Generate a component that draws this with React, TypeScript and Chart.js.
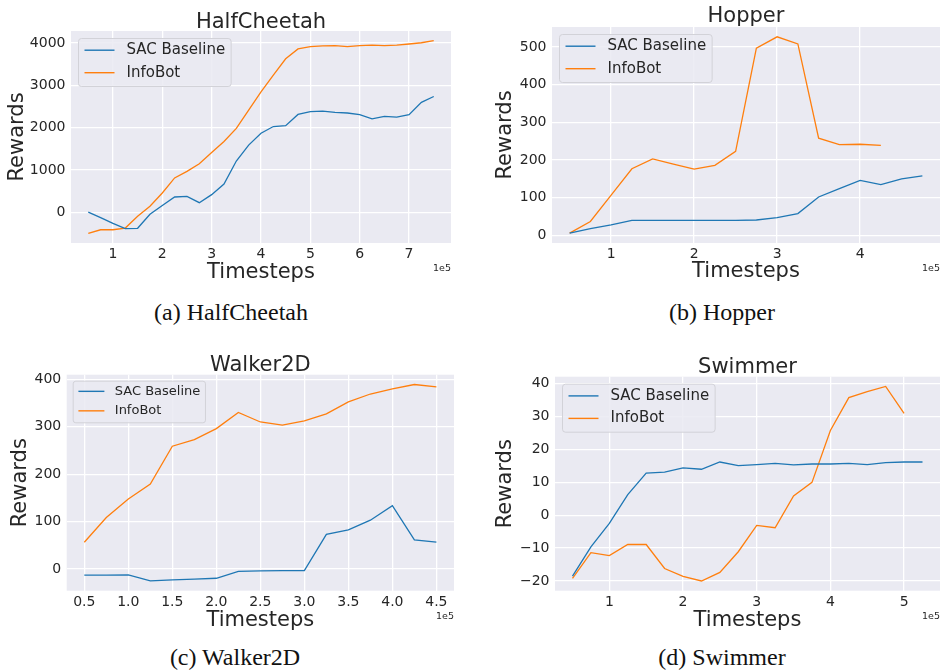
import { useEffect, useRef } from "react";
import { Chart, registerables } from "chart.js";

Chart.register(...registerables);

// ---------------- DATA ----------------
const SERIES_LABELS = ["SAC Baseline", "InfoBot"];

// (a) HalfCheetah
const HC_STEPS = [
  50000, 75000, 100000, 125000, 150000, 175000, 200000, 225000, 250000, 275000,
  300000, 325000, 350000, 375000, 400000, 425000, 450000, 475000, 500000, 525000,
  550000, 575000, 600000, 625000, 650000, 675000, 700000, 725000, 750000,
];
const HC_SAC = [
  0, -130, -265, -390, -380, -50, 160, 360, 375, 225, 415, 665, 1210, 1585, 1865,
  2025, 2045, 2310, 2375, 2390, 2360, 2345, 2305, 2205, 2265, 2245, 2305, 2595, 2735,
];
const HC_INFOBOT = [
  -500, -415, -415, -375, -95, 140, 455, 810, 965, 1145, 1410, 1670, 1980, 2415, 2845,
  3240, 3625, 3860, 3915, 3930, 3935, 3915, 3935, 3950, 3935, 3950, 3975, 4005, 4055,
];
const HC_X_TICKS = [100000, 200000, 300000, 400000, 500000, 600000, 700000];
const HC_X_LABELS = ["1", "2", "3", "4", "5", "6", "7"];
const HC_Y_TICKS = [0, 1000, 2000, 3000, 4000];
const HC_Y_LABELS = ["0", "1000", "2000", "3000", "4000"];

// (b) Hopper
const HOP_STEPS = [
  50000, 75000, 100000, 125000, 150000, 175000, 200000, 225000, 250000, 275000,
  300000, 325000, 350000, 375000, 400000, 425000, 450000, 475000,
];
const HOP_SAC = [6, 18, 28, 40, 40, 40, 40, 40, 40, 41, 47, 58, 102, 124, 146, 135, 150, 158];
const HOP_INFOBOT = [6, 37, 107, 177, 203, 189, 176, 186, 223, 497, 527, 508, 258, 241, 242, 239];
const HOP_X_TICKS = [100000, 200000, 300000, 400000];
const HOP_X_LABELS = ["1", "2", "3", "4"];
const HOP_Y_TICKS = [0, 100, 200, 300, 400, 500];
const HOP_Y_LABELS = ["0", "100", "200", "300", "400", "500"];

// (c) Walker2D
const WK_STEPS = [
  50000, 75000, 100000, 125000, 150000, 175000, 200000, 225000, 250000, 275000,
  300000, 325000, 350000, 375000, 400000, 425000, 450000,
];
const WK_SAC = [-13, -13, -12.5, -25, -23, -21.5, -19.5, -5, -4, -3.5, -3.5, 73, 82.5, 103, 133.5, 61.5, 56.5];
const WK_INFOBOT = [56.5, 108.5, 147.5, 179, 259, 273, 296, 330, 310, 303.5, 312.5, 327, 352.5, 369, 380, 389, 384];
const WK_X_TICKS = [50000, 100000, 150000, 200000, 250000, 300000, 350000, 400000, 450000];
const WK_X_LABELS = ["0.5", "1.0", "1.5", "2.0", "2.5", "3.0", "3.5", "4.0", "4.5"];
const WK_Y_TICKS = [0, 100, 200, 300, 400];
const WK_Y_LABELS = ["0", "100", "200", "300", "400"];

// (d) Swimmer
const SW_STEPS = [
  50000, 75000, 100000, 125000, 150000, 175000, 200000, 225000, 250000, 275000,
  300000, 325000, 350000, 375000, 400000, 425000, 450000, 475000, 500000, 525000,
];
const SW_SAC = [
  -18.5, -9.6, -2.5, 6.3, 12.8, 13.1, 14.4, 14.0, 16.2, 15.1, 15.4, 15.8, 15.3, 15.6,
  15.6, 15.8, 15.4, 16.0, 16.2, 16.2,
];
const SW_INFOBOT = [
  -19.2, -11.4, -12.3, -8.9, -8.9, -16.2, -18.6, -20.0, -17.4, -11.1, -3.1, -3.8, 5.9,
  10.0, 25.8, 35.8, 37.6, 39.2, 31.0,
];
const SW_X_TICKS = [100000, 200000, 300000, 400000, 500000];
const SW_X_LABELS = ["1", "2", "3", "4", "5"];
const SW_Y_TICKS = [-20, -10, 0, 10, 20, 30, 40];
const SW_Y_LABELS = ["\u221220", "\u221210", "0", "10", "20", "30", "40"];

// ---------------- STYLE ----------------
const BLUE = "#1f77b4";
const ORANGE = "#ff7f0e";
const TEXT = "#262626";
const FACE = "#EAEAF2";
const FONT = "'DejaVu Sans', sans-serif";

type Panel = {
  title: string;
  caption: string;
  steps: number[];
  sac: number[];
  info: number[];
  xTicks: number[];
  xLabels: string[];
  yTicks: number[];
  yLabels: string[];
  left: number;
  top: number;
  w: number;
  h: number;
  ca: { l: number; r: number; t: number; b: number };
  titlePad: [number, number];
  yTitlePad: number;
  xTitlePad: number;
  xTickPad: number;
  legendFs: number;
  offBaseline: number;
  capX: number;
  capTop: number;
};

const PANELS: Panel[] = [
  {
    title: "HalfCheetah", caption: "(a) HalfCheetah",
    steps: HC_STEPS, sac: HC_SAC, info: HC_INFOBOT,
    xTicks: HC_X_TICKS, xLabels: HC_X_LABELS, yTicks: HC_Y_TICKS, yLabels: HC_Y_LABELS,
    left: 0, top: 0, w: 470, h: 290, ca: { l: 71, r: 451, t: 31, b: 243 },
    titlePad: [14.95, 1.35], yTitlePad: 5, xTitlePad: 4.9, xTickPad: 2.6, legendFs: 15,
    offBaseline: 271, capX: 231, capTop: 300,
  },
  {
    title: "Hopper", caption: "(b) Hopper",
    steps: HOP_STEPS, sac: HOP_SAC, info: HOP_INFOBOT,
    xTicks: HOP_X_TICKS, xLabels: HOP_X_LABELS, yTicks: HOP_Y_TICKS, yLabels: HOP_Y_LABELS,
    left: 470, top: 0, w: 471, h: 290, ca: { l: 82, r: 470, t: 27, b: 243 },
    titlePad: [9.65, 2.65], yTitlePad: 23, xTitlePad: 5.4, xTickPad: 2.6, legendFs: 15,
    offBaseline: 270.7, capX: 722, capTop: 300,
  },
  {
    title: "Walker2D", caption: "(c) Walker2D",
    steps: WK_STEPS, sac: WK_SAC, info: WK_INFOBOT,
    xTicks: WK_X_TICKS, xLabels: WK_X_LABELS, yTicks: WK_Y_TICKS, yLabels: WK_Y_LABELS,
    left: 0, top: 340, w: 470, h: 300, ca: { l: 66.7, r: 454, t: 34.7, b: 250.7 },
    titlePad: [18.45, 1.55], yTitlePad: 8, xTitlePad: 6.9, xTickPad: 3.1, legendFs: 13,
    offBaseline: 279.3, capX: 235, capTop: 645,
  },
  {
    title: "Swimmer", caption: "(d) Swimmer",
    steps: SW_STEPS, sac: SW_SAC, info: SW_INFOBOT,
    xTicks: SW_X_TICKS, xLabels: SW_X_LABELS, yTicks: SW_Y_TICKS, yLabels: SW_Y_LABELS,
    left: 470, top: 340, w: 471, h: 300, ca: { l: 85, r: 470, t: 36.7, b: 250.7 },
    titlePad: [20.45, 1.55], yTitlePad: 23.3, xTitlePad: 6.9, xTickPad: 3.3, legendFs: 15,
    offBaseline: 279.3, capX: 722, capTop: 645,
  },
];

function toPoints(xs: number[], ys: number[]) {
  return ys.map((y, i) => ({ x: xs[i], y }));
}

function makeConfig(p: Panel): any {
  const xMinD = Math.min(...p.steps);
  const xMaxD = Math.max(...p.steps);
  const all = [...p.sac, ...p.info];
  const yMinD = Math.min(...all);
  const yMaxD = Math.max(...all);
  const xm = (xMaxD - xMinD) * 0.05;
  const ym = (yMaxD - yMinD) * 0.05;

  const bgPlugin = {
    id: "facebg",
    beforeDraw(chart: any) {
      const { ctx, chartArea } = chart;
      ctx.save();
      ctx.fillStyle = FACE;
      ctx.fillRect(chartArea.left, chartArea.top, chartArea.right - chartArea.left, chartArea.bottom - chartArea.top);
      ctx.restore();
    },
  };

  const legendPlugin = {
    id: "mplLegend",
    afterDatasetsDraw(chart: any) {
      const { ctx, chartArea } = chart;
      const fs = p.legendFs;
      ctx.save();
      ctx.font = `${fs}px ${FONT}`;
      const ds = chart.data.datasets;
      const tw = Math.max(...ds.map((d: any) => ctx.measureText(d.label).width));
      const bx = chartArea.left + 0.5 * fs;
      const by = chartArea.top + 0.5 * fs;
      const bw = 3.6 * fs + tw;
      const bh = 3.2 * fs;
      const r = 0.2 * fs;
      ctx.beginPath();
      ctx.moveTo(bx + r, by);
      ctx.lineTo(bx + bw - r, by);
      ctx.quadraticCurveTo(bx + bw, by, bx + bw, by + r);
      ctx.lineTo(bx + bw, by + bh - r);
      ctx.quadraticCurveTo(bx + bw, by + bh, bx + bw - r, by + bh);
      ctx.lineTo(bx + r, by + bh);
      ctx.quadraticCurveTo(bx, by + bh, bx, by + bh - r);
      ctx.lineTo(bx, by + r);
      ctx.quadraticCurveTo(bx, by, bx + r, by);
      ctx.closePath();
      ctx.fillStyle = "rgba(234,234,242,0.85)";
      ctx.fill();
      ctx.strokeStyle = "#d2d2d8";
      ctx.lineWidth = 1;
      ctx.stroke();
      ds.forEach((d: any, i: number) => {
        const y = by + 0.78 * fs + i * 1.5 * fs;
        ctx.beginPath();
        ctx.moveTo(bx + 0.4 * fs, y);
        ctx.lineTo(bx + 2.4 * fs, y);
        ctx.strokeStyle = d.borderColor;
        ctx.lineWidth = 1.4;
        ctx.stroke();
        ctx.fillStyle = TEXT;
        ctx.textAlign = "left";
        ctx.textBaseline = "middle";
        ctx.fillText(d.label, bx + 3.2 * fs, y);
      });
      ctx.restore();
    },
    afterDraw(chart: any) {
      const { ctx, chartArea } = chart;
      ctx.save();
      ctx.font = `9.5px ${FONT}`;
      ctx.fillStyle = TEXT;
      ctx.textAlign = "right";
      ctx.textBaseline = "alphabetic";
      ctx.fillText("1e5", chartArea.right, p.offBaseline);
      ctx.restore();
    },
  };

  return {
    type: "line",
    data: {
      datasets: [
        {
          label: SERIES_LABELS[0],
          data: toPoints(p.steps, p.sac),
          borderColor: BLUE,
          backgroundColor: BLUE,
          borderWidth: 1.3,
          pointRadius: 0,
          fill: false,
          tension: 0,
        },
        {
          label: SERIES_LABELS[1],
          data: toPoints(p.steps, p.info),
          borderColor: ORANGE,
          backgroundColor: ORANGE,
          borderWidth: 1.3,
          pointRadius: 0,
          fill: false,
          tension: 0,
        },
      ],
    },
    options: {
      animation: false,
      responsive: false,
      events: [],
      layout: { padding: { left: 0, top: 0, right: p.w - p.ca.r, bottom: 0 } },
      plugins: {
        legend: { display: false },
        tooltip: { enabled: false },
        title: {
          display: true,
          text: p.title,
          fullSize: false,
          color: TEXT,
          font: { family: FONT, size: 21, weight: "normal", lineHeight: 0.7 },
          padding: { top: p.titlePad[0], bottom: p.titlePad[1] },
        },
      },
      scales: {
        x: {
          type: "linear",
          min: xMinD - xm,
          max: xMaxD + xm,
          afterBuildTicks: (s: any) => {
            s.ticks = p.xTicks.map((v) => ({ value: v }));
          },
          afterFit: (s: any) => {
            s.height = p.h - p.ca.b;
          },
          grid: { color: "#ffffff", lineWidth: 1.3, drawTicks: false },
          border: { display: false },
          ticks: {
            autoSkip: false,
            maxRotation: 0,
            minRotation: 0,
            padding: p.xTickPad,
            color: TEXT,
            font: { family: FONT, size: 14 },
            callback: (_v: any, i: number) => p.xLabels[i],
          },
          title: {
            display: true,
            text: "Timesteps",
            color: TEXT,
            font: { family: FONT, size: 21, lineHeight: 1.2 },
            padding: { top: 0, bottom: p.xTitlePad },
          },
        },
        y: {
          type: "linear",
          min: yMinD - ym,
          max: yMaxD + ym,
          afterBuildTicks: (s: any) => {
            s.ticks = p.yTicks.map((v) => ({ value: v }));
          },
          afterFit: (s: any) => {
            s.width = p.ca.l;
          },
          grid: { color: "#ffffff", lineWidth: 1.3, drawTicks: false },
          border: { display: false },
          ticks: {
            autoSkip: false,
            padding: 5.5,
            color: TEXT,
            font: { family: FONT, size: 14 },
            callback: (_v: any, i: number) => p.yLabels[i],
          },
          title: {
            display: true,
            text: "Rewards",
            color: TEXT,
            font: { family: FONT, size: 21, lineHeight: 1.2 },
            padding: { top: p.yTitlePad, bottom: 0 },
          },
        },
      },
    },
    plugins: [bgPlugin, legendPlugin],
  };
}

function PanelChart({ p }: { p: Panel }) {
  const ref = useRef<HTMLCanvasElement>(null);
  useEffect(() => {
    if (!ref.current) return;
    const chart = new Chart(ref.current, makeConfig(p));
    return () => chart.destroy();
  }, [p]);
  return (
    <canvas
      ref={ref}
      width={p.w}
      height={p.h}
      style={{ position: "absolute", left: p.left, top: p.top, width: p.w, height: p.h, display: "block" }}
    />
  );
}

export default function App() {
  return (
    <div style={{ position: "absolute", left: 0, top: 0, width: 941, height: 671, background: "#ffffff", overflow: "hidden" }}>
      {PANELS.map((p) => (
        <PanelChart key={p.title} p={p} />
      ))}
      {PANELS.map((p) => (
        <div
          key={p.caption}
          style={{
            position: "absolute",
            left: p.capX - 150,
            top: p.capTop,
            width: 300,
            textAlign: "center",
            fontFamily: "'Liberation Serif', 'Times New Roman', serif",
            fontSize: 24,
            lineHeight: "24px",
            color: "#111111",
            whiteSpace: "nowrap",
          }}
        >
          {p.caption}
        </div>
      ))}
    </div>
  );
}
